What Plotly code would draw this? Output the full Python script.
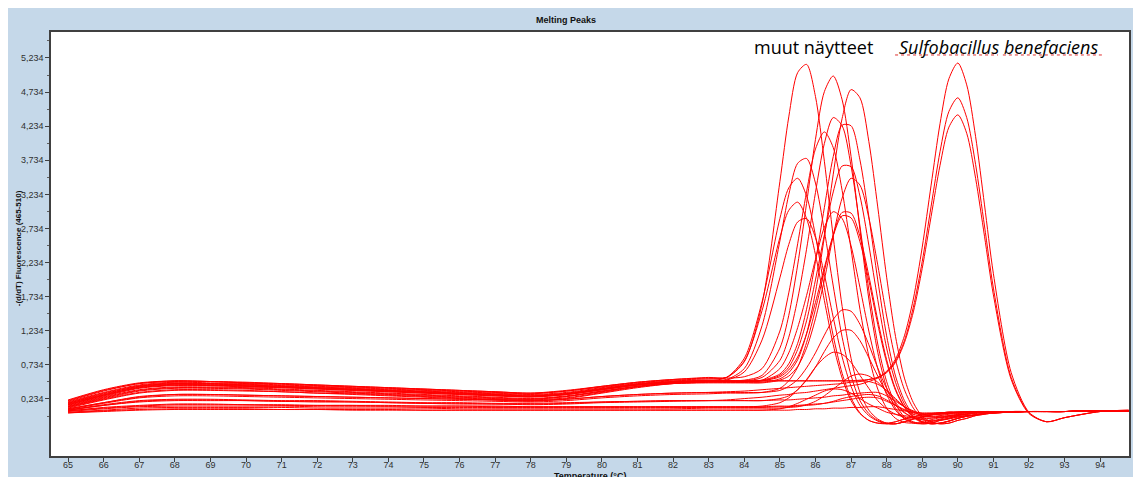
import plotly.graph_objects as go

# ---- data ----
TEMPERATURE = [65, 66, 67, 68, 69, 70, 71, 72, 73, 74, 75, 76, 77, 78, 79, 80, 81, 82, 83,
               83.5, 84, 84.5, 85, 85.25, 85.5, 85.75, 86, 86.25, 86.5, 86.75, 87, 87.25,
               87.5, 87.75, 88, 88.25, 88.5, 88.75, 89, 89.25, 89.5, 89.75, 90, 90.25,
               90.5, 90.75, 91, 91.5, 92, 92.5, 93, 94, 94.8]

Y_TICK_VALUES = [0.234, 0.734, 1.234, 1.734, 2.234, 2.734, 3.234, 3.734, 4.234, 4.734, 5.234]
Y_TICK_LABELS = ["0,234", "0,734", "1,234", "1,734", "2,234", "2,734", "3,234", "3,734",
                 "4,234", "4,734", "5,234"]
Y_MINOR_TICKS = [-0.016, 0.484, 0.984, 1.484, 1.984, 2.484, 2.984, 3.484, 3.984, 4.484, 4.984, 5.484]
X_TICK_VALUES = list(range(65, 95))

# other samples ("muut näytteet")
SAMPLE_01 = [0.22,0.37,0.47,0.50,0.49,0.48,0.46,0.44,0.42,0.40,0.38,0.36,0.34,0.32,0.36,0.42,0.48,0.52,0.55,
             0.55,0.78,1.63,3.42,4.37,5.02,5.14,4.67,3.72,2.61,1.59,0.83,0.33,0.07,-0.06,-0.12,-0.13,-0.10,-0.06,-0.03,0.00,0.02,0.03,0.04,0.04,0.05,0.05,0.05,0.05,0.05,0.05,0.05,0.06,0.06]
SAMPLE_02 = [0.18,0.32,0.43,0.47,0.46,0.45,0.43,0.41,0.39,0.37,0.35,0.33,0.31,0.29,0.32,0.39,0.45,0.49,0.51,
             0.52,0.68,1.31,2.55,3.23,3.69,3.76,3.40,2.70,1.89,1.14,0.58,0.21,0.02,-0.08,-0.12,-0.13,-0.10,-0.06,-0.03,0.00,0.02,0.03,0.04,0.04,0.05,0.05,0.05,0.05,0.05,0.05,0.05,0.06,0.06]
SAMPLE_03 = [0.15,0.28,0.40,0.44,0.43,0.42,0.40,0.38,0.36,0.34,0.32,0.30,0.28,0.26,0.30,0.37,0.44,0.48,0.50,
             0.55,0.83,1.66,2.88,3.33,3.47,3.21,2.63,1.87,1.16,0.61,0.25,0.03,-0.08,-0.12,-0.12,-0.10,-0.06,-0.03,0.00,0.02,0.03,0.04,0.04,0.05,0.05,0.05,0.05,0.05,0.05,0.05,0.05,0.06,0.06]
SAMPLE_04 = [0.20,0.35,0.46,0.50,0.49,0.47,0.45,0.43,0.41,0.39,0.37,0.35,0.33,0.31,0.35,0.41,0.47,0.51,0.53,
             0.55,0.79,1.53,2.60,3.00,3.12,2.88,2.35,1.68,1.03,0.54,0.21,0.02,-0.08,-0.12,-0.13,-0.10,-0.06,-0.03,0.00,0.02,0.03,0.04,0.04,0.05,0.05,0.05,0.05,0.05,0.05,0.05,0.05,0.06,0.06]
SAMPLE_05 = [0.12,0.25,0.36,0.40,0.40,0.39,0.37,0.35,0.33,0.31,0.29,0.27,0.25,0.23,0.27,0.35,0.42,0.47,0.49,
             0.51,0.63,1.10,2.01,2.50,2.83,2.88,2.60,2.06,1.43,0.85,0.42,0.14,-0.01,-0.09,-0.13,-0.13,-0.10,-0.06,-0.03,0.00,0.02,0.03,0.04,0.04,0.05,0.05,0.05,0.05,0.05,0.05,0.05,0.06,0.06]
SAMPLE_06 = [0.17,0.31,0.42,0.46,0.46,0.44,0.42,0.40,0.38,0.36,0.34,0.32,0.30,0.28,0.31,0.38,0.45,0.49,0.50,
             0.50,0.51,0.58,0.98,1.46,2.20,3.10,4.04,4.74,4.97,4.62,3.79,2.72,1.70,0.92,0.40,0.10,-0.05,-0.11,-0.12,-0.10,-0.06,-0.03,0.00,0.02,0.03,0.04,0.04,0.05,0.05,0.05,0.05,0.06,0.06]
SAMPLE_07 = [0.16,0.29,0.41,0.45,0.44,0.43,0.41,0.39,0.37,0.35,0.33,0.31,0.29,0.27,0.31,0.38,0.44,0.48,0.50,
             0.50,0.50,0.55,0.80,1.14,1.70,2.43,3.26,3.98,4.36,4.24,3.65,2.77,1.83,1.04,0.49,0.16,-0.03,-0.10,-0.13,-0.12,-0.08,-0.05,-0.01,0.01,0.03,0.04,0.04,0.05,0.05,0.05,0.05,0.06,0.06]
SAMPLE_08 = [0.21,0.36,0.46,0.49,0.49,0.47,0.46,0.44,0.42,0.40,0.38,0.36,0.34,0.32,0.35,0.42,0.48,0.52,0.54,
             0.54,0.56,0.68,1.23,1.79,2.51,3.27,3.90,4.15,3.92,3.29,2.43,1.55,0.86,0.38,0.10,-0.05,-0.11,-0.12,-0.11,-0.07,-0.04,-0.01,0.01,0.03,0.04,0.05,0.05,0.05,0.05,0.05,0.05,0.06,0.06]
SAMPLE_09 = [0.10,0.22,0.32,0.36,0.36,0.35,0.34,0.32,0.30,0.28,0.26,0.24,0.22,0.20,0.24,0.32,0.40,0.46,0.48,
             0.48,0.48,0.51,0.68,0.91,1.28,1.75,2.28,2.75,2.98,2.88,2.48,1.87,1.23,0.68,0.30,0.07,-0.06,-0.12,-0.13,-0.12,-0.08,-0.05,-0.01,0.01,0.03,0.04,0.04,0.05,0.05,0.05,0.05,0.06,0.06]
SAMPLE_10 = [0.13,0.26,0.37,0.41,0.41,0.40,0.38,0.36,0.34,0.32,0.30,0.28,0.26,0.24,0.28,0.35,0.42,0.46,0.48,
             0.48,0.48,0.48,0.53,0.62,0.81,1.19,1.80,2.61,3.53,4.35,4.77,4.65,4.01,3.05,2.02,1.15,0.54,0.18,-0.02,-0.10,-0.13,-0.12,-0.08,-0.05,-0.01,0.01,0.03,0.05,0.05,0.05,0.05,0.06,0.06]
SAMPLE_11 = [0.19,0.33,0.44,0.48,0.47,0.46,0.44,0.42,0.40,0.38,0.36,0.34,0.32,0.30,0.33,0.40,0.46,0.50,0.51,
             0.50,0.50,0.51,0.60,0.75,1.05,1.55,2.25,3.04,3.79,4.25,4.24,3.74,2.91,1.98,1.16,0.57,0.21,0.00,-0.10,-0.12,-0.12,-0.09,-0.05,-0.02,0.00,0.02,0.03,0.04,0.05,0.05,0.05,0.06,0.06]
SAMPLE_12 = [0.14,0.27,0.39,0.43,0.43,0.41,0.40,0.38,0.36,0.34,0.32,0.30,0.28,0.27,0.30,0.37,0.44,0.48,0.49,
             0.49,0.49,0.50,0.58,0.70,0.96,1.38,1.98,2.64,3.27,3.65,3.64,3.21,2.49,1.69,0.98,0.48,0.16,-0.02,-0.10,-0.13,-0.12,-0.09,-0.05,-0.02,0.00,0.02,0.03,0.04,0.05,0.05,0.05,0.06,0.06]
SAMPLE_13 = [0.11,0.23,0.33,0.37,0.37,0.36,0.34,0.32,0.31,0.29,0.27,0.25,0.23,0.22,0.25,0.33,0.41,0.46,0.47,
             0.47,0.47,0.47,0.51,0.57,0.71,0.98,1.41,1.98,2.63,3.18,3.47,3.37,2.89,2.20,1.45,0.81,0.37,0.10,-0.05,-0.11,-0.13,-0.12,-0.08,-0.05,-0.01,0.01,0.03,0.05,0.05,0.05,0.05,0.06,0.06]
SAMPLE_14 = [0.08,0.17,0.25,0.28,0.28,0.27,0.26,0.25,0.24,0.23,0.22,0.21,0.20,0.19,0.21,0.25,0.28,0.30,0.31,
             0.32,0.32,0.33,0.39,0.50,0.70,1.06,1.55,2.11,2.64,2.97,2.96,2.62,2.04,1.39,0.81,0.38,0.12,-0.03,-0.10,-0.13,-0.12,-0.09,-0.05,-0.02,0.00,0.02,0.03,0.04,0.05,0.05,0.05,0.06,0.06]
SAMPLE_15 = [0.12,0.24,0.35,0.39,0.39,0.38,0.36,0.34,0.32,0.30,0.28,0.26,0.24,0.23,0.27,0.34,0.42,0.47,0.49,
             0.49,0.49,0.50,0.56,0.66,0.85,1.19,1.65,2.16,2.63,2.92,2.89,2.54,1.97,1.33,0.77,0.36,0.11,-0.04,-0.11,-0.13,-0.12,-0.09,-0.05,-0.02,0.00,0.02,0.03,0.04,0.05,0.05,0.05,0.06,0.06]
SAMPLE_16 = [0.09,0.18,0.26,0.30,0.30,0.29,0.28,0.27,0.26,0.25,0.24,0.23,0.22,0.21,0.23,0.27,0.30,0.32,0.33,
             0.33,0.33,0.33,0.36,0.42,0.52,0.69,0.91,1.17,1.40,1.54,1.52,1.33,1.03,0.69,0.39,0.18,0.04,-0.04,-0.07,-0.09,-0.08,-0.06,-0.03,-0.01,0.00,0.02,0.03,0.04,0.05,0.05,0.05,0.06,0.06]
SAMPLE_17 = [0.07,0.14,0.20,0.22,0.22,0.21,0.20,0.20,0.19,0.18,0.17,0.17,0.16,0.16,0.17,0.19,0.20,0.21,0.21,
             0.21,0.21,0.21,0.24,0.28,0.37,0.51,0.70,0.93,1.13,1.24,1.24,1.09,0.84,0.57,0.32,0.14,0.03,-0.04,-0.07,-0.08,-0.07,-0.05,-0.03,-0.01,0.00,0.02,0.03,0.04,0.05,0.05,0.05,0.06,0.06]
SAMPLE_18 = [0.06,0.10,0.13,0.15,0.15,0.15,0.14,0.14,0.14,0.13,0.13,0.13,0.12,0.12,0.12,0.12,0.12,0.12,0.12,
             0.12,0.12,0.13,0.18,0.25,0.37,0.52,0.70,0.84,0.92,0.89,0.77,0.58,0.39,0.21,0.09,0.01,-0.03,-0.05,-0.05,-0.05,-0.03,-0.02,0.00,0.01,0.03,0.04,0.04,0.05,0.05,0.05,0.05,0.06,0.06]
SAMPLE_19 = [0.04,0.07,0.10,0.11,0.11,0.11,0.11,0.10,0.10,0.10,0.10,0.09,0.09,0.09,0.09,0.09,0.09,0.09,0.10,
             0.10,0.10,0.10,0.10,0.11,0.12,0.15,0.20,0.28,0.38,0.48,0.57,0.60,0.57,0.48,0.35,0.22,0.12,0.04,0.00,-0.03,-0.04,-0.03,-0.02,-0.01,0.00,0.02,0.03,0.04,0.05,0.05,0.05,0.06,0.06]
SAMPLE_20 = [0.03,0.05,0.07,0.08,0.08,0.08,0.08,0.08,0.07,0.07,0.07,0.07,0.07,0.07,0.07,0.07,0.07,0.07,0.07,
             0.07,0.07,0.07,0.09,0.12,0.17,0.23,0.29,0.35,0.38,0.37,0.32,0.24,0.16,0.10,0.04,0.01,-0.01,-0.03,-0.03,-0.03,-0.02,-0.01,0.00,0.01,0.02,0.03,0.04,0.05,0.05,0.05,0.05,0.06,0.06]
FLAT_01 = [0.06,0.11,0.14,0.16,0.16,0.15,0.15,0.14,0.14,0.14,0.13,0.13,0.13,0.12,0.12,0.12,0.12,0.12,0.12,
           0.12,0.12,0.12,0.13,0.13,0.14,0.15,0.16,0.17,0.19,0.21,0.23,0.25,0.26,0.25,0.20,0.14,0.08,0.03,0.00,0.00,0.01,0.02,0.03,0.04,0.04,0.05,0.05,0.05,0.05,0.05,0.05,0.06,0.06]
FLAT_02 = [0.05,0.09,0.12,0.13,0.13,0.13,0.13,0.12,0.12,0.12,0.11,0.11,0.11,0.11,0.11,0.11,0.11,0.11,0.11,
           0.11,0.11,0.11,0.12,0.12,0.13,0.14,0.15,0.17,0.20,0.24,0.27,0.29,0.30,0.28,0.22,0.14,0.07,0.01,-0.02,-0.02,-0.01,0.01,0.02,0.03,0.04,0.05,0.05,0.05,0.05,0.05,0.05,0.06,0.06]
FLAT_03 = [0.07,0.15,0.21,0.23,0.23,0.22,0.21,0.21,0.20,0.19,0.18,0.18,0.17,0.17,0.18,0.19,0.20,0.21,0.21,
           0.21,0.21,0.21,0.22,0.22,0.23,0.24,0.25,0.26,0.28,0.29,0.31,0.32,0.33,0.33,0.28,0.20,0.12,0.06,0.02,0.01,0.01,0.02,0.03,0.04,0.04,0.05,0.05,0.05,0.05,0.05,0.05,0.06,0.06]
FLAT_04 = [0.03,0.06,0.08,0.09,0.09,0.09,0.08,0.08,0.08,0.08,0.07,0.07,0.07,0.07,0.07,0.07,0.07,0.07,0.07,
           0.07,0.07,0.07,0.07,0.07,0.08,0.08,0.09,0.09,0.10,0.10,0.11,0.11,0.12,0.12,0.10,0.08,0.06,0.04,0.03,0.03,0.03,0.04,0.04,0.04,0.05,0.05,0.05,0.05,0.05,0.05,0.05,0.06,0.06]
FLAT_05 = [0.17,0.30,0.42,0.46,0.45,0.44,0.42,0.40,0.38,0.36,0.34,0.32,0.30,0.28,0.31,0.38,0.45,0.48,0.50,
           0.50,0.50,0.50,0.50,0.50,0.50,0.50,0.50,0.50,0.50,0.50,0.50,0.50,0.49,0.45,0.36,0.24,0.12,0.05,0.02,0.02,0.03,0.04,0.04,0.05,0.05,0.05,0.05,0.05,0.05,0.05,0.05,0.06,0.06]

# Sulfobacillus benefaciens
SULFO_01 = [0.15,0.29,0.40,0.44,0.44,0.42,0.41,0.39,0.37,0.35,0.33,0.31,0.29,0.27,0.30,0.37,0.44,0.48,0.50,
            0.50,0.50,0.50,0.50,0.50,0.50,0.50,0.50,0.50,0.50,0.50,0.50,0.51,0.52,0.55,0.64,0.82,1.16,1.70,2.46,3.37,4.27,4.93,5.16,4.84,4.08,3.08,2.07,0.62,0.04,-0.10,-0.04,0.05,0.07]
SULFO_02 = [0.09,0.18,0.27,0.30,0.30,0.29,0.28,0.27,0.26,0.25,0.24,0.23,0.22,0.21,0.23,0.27,0.30,0.32,0.33,
            0.34,0.35,0.37,0.39,0.40,0.41,0.42,0.43,0.44,0.45,0.46,0.48,0.49,0.52,0.55,0.63,0.79,1.09,1.58,2.25,3.06,3.86,4.45,4.65,4.36,3.67,2.77,1.86,0.55,0.03,-0.10,-0.04,0.05,0.07]
SULFO_03 = [0.07,0.14,0.19,0.21,0.21,0.21,0.20,0.19,0.19,0.18,0.17,0.16,0.16,0.15,0.16,0.18,0.19,0.20,0.21,
            0.22,0.24,0.26,0.29,0.30,0.32,0.33,0.35,0.37,0.39,0.41,0.43,0.45,0.49,0.54,0.62,0.77,1.06,1.51,2.15,2.91,3.66,4.22,4.40,4.13,3.47,2.62,1.76,0.52,0.02,-0.10,-0.04,0.05,0.06]

ALL_SERIES = [SAMPLE_01, SAMPLE_02, SAMPLE_03, SAMPLE_04, SAMPLE_05, SAMPLE_06, SAMPLE_07,
              SAMPLE_08, SAMPLE_09, SAMPLE_10, SAMPLE_11, SAMPLE_12, SAMPLE_13, SAMPLE_14,
              SAMPLE_15, SAMPLE_16, SAMPLE_17, SAMPLE_18, SAMPLE_19, SAMPLE_20,
              FLAT_01, FLAT_02, FLAT_03, FLAT_04, FLAT_05, SULFO_01, SULFO_02, SULFO_03]

for i, ys in enumerate(ALL_SERIES):
    assert len(ys) == len(TEMPERATURE), f"series {i} has {len(ys)} values, expected {len(TEMPERATURE)}"

fig = go.Figure()
for ys in ALL_SERIES:
    fig.add_trace(go.Scatter(
        x=TEMPERATURE, y=ys, mode="lines",
        line=dict(color="#ff0000", width=1, shape="spline", smoothing=0.8),
        showlegend=False, hoverinfo="skip"))

AXIS_FONT = dict(family="Liberation Sans, Arial, sans-serif", size=9, color="#303030")
LABEL_FONT = dict(family="Liberation Sans, Arial, sans-serif", size=9, color="#111")
NOTE_FONT = dict(family="Open Sans, Noto Sans, sans-serif", size=18, color="black")

fig.update_layout(
    width=1141, height=477,
    margin=dict(l=43, r=20, t=24, b=29),
    paper_bgcolor="#c5d8e9",
    plot_bgcolor="white",
    showlegend=False,
    title=dict(text="<b>Melting Peaks</b>", x=0.489, xref="container", xanchor="center",
               y=0.9748, yref="container", yanchor="middle", font=LABEL_FONT),
    shapes=[
        dict(type="line", xref="paper", yref="paper", x0=0.783, x1=0.8785, y0=0.9458, y1=0.9458,
             line=dict(color="#e03030", width=1, dash="dot")),
        dict(type="line", xref="paper", yref="paper", x0=0.883, x1=0.976, y0=0.9458, y1=0.9458,
             line=dict(color="#e03030", width=1, dash="dot")),
    ],
    annotations=[
        dict(text="muut näytteet", x=0.7069, y=0.9646, xref="paper", yref="paper",
             xanchor="center", yanchor="middle", showarrow=False, font=NOTE_FONT),
        dict(text="<i>Sulfobacillus benefaciens</i>", x=0.879, y=0.9646, xref="paper", yref="paper",
             xanchor="center", yanchor="middle", showarrow=False, font=NOTE_FONT),
        dict(text="<b>Temperature (°C)</b>", x=0.5, y=-0.047, xref="paper", yref="paper",
             xanchor="center", yanchor="middle", showarrow=False, font=LABEL_FONT),
        dict(text="<b>-(d/dT) Fluorescence (465-510)</b>", x=-0.0306, y=0.49, xref="paper", yref="paper",
             xanchor="center", yanchor="middle", showarrow=False, textangle=-90,
             font=dict(family="Liberation Sans, Arial, sans-serif", size=8, color="#111")),
    ],
)

fig.update_xaxes(
    range=[64.52, 94.81], tickvals=X_TICK_VALUES, ticks="outside", ticklen=4,
    ticklabelstandoff=-5,
    tickcolor="#404040", tickfont=AXIS_FONT, showgrid=False, zeroline=False,
    showline=True, linecolor="#404040", linewidth=1.5, mirror=True, automargin=False,
)
fig.update_yaxes(
    range=[-0.602, 5.615], tickvals=Y_TICK_VALUES, ticktext=Y_TICK_LABELS,
    ticks="outside", ticklen=4, tickcolor="#404040", tickfont=AXIS_FONT,
    showgrid=False, zeroline=False, showline=True, linecolor="#404040",
    linewidth=1.5, mirror=True, automargin=False,
    minor=dict(tickvals=Y_MINOR_TICKS, ticks="outside", ticklen=2, tickcolor="#606060"),
)

fig.write_html("out.html")
